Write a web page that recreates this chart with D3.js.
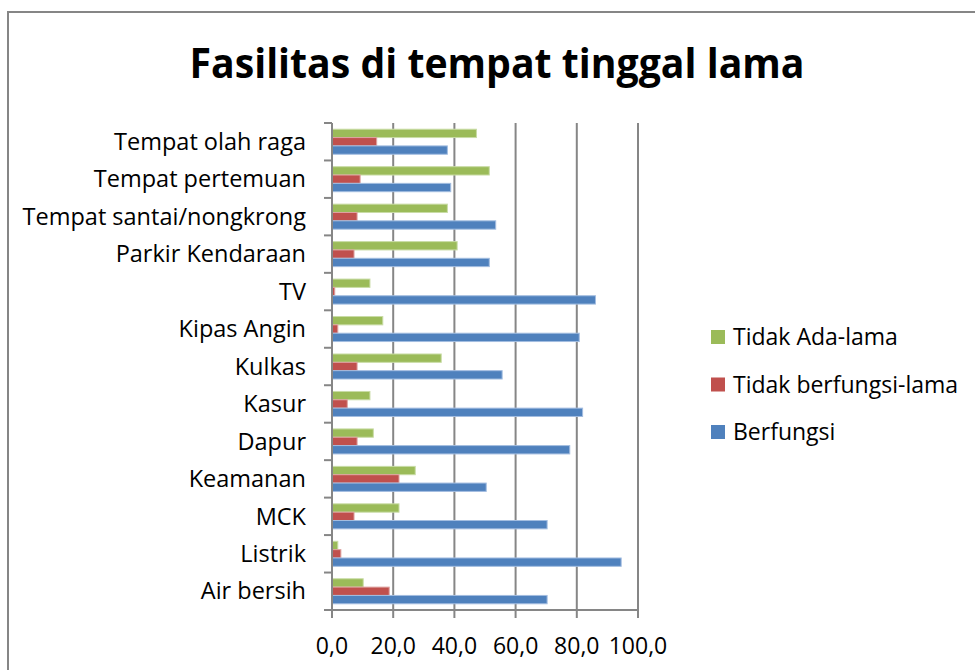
<!DOCTYPE html>
<html lang="id">
<head>
  <meta charset="utf-8" />
  <title>Fasilitas di tempat tinggal lama</title>
  <script src="https://cdn.jsdelivr.net/npm/d3@7"></script>
  <style>
    body { margin: 0; background: #fff; }
    svg { display: block; }
    text { font-family: "Open Sans", "Noto Sans", sans-serif; fill: #000; }
    .grid line, .axis line, .axis path { stroke: #868686; stroke-width: 2; }
  </style>
</head>
<body>
<div id="chart"></div>
<script>
  // kategori dari atas ke bawah
  var categories = ["Tempat olah raga", "Tempat pertemuan", "Tempat santai/nongkrong", "Parkir Kendaraan",
    "TV", "Kipas Angin", "Kulkas", "Kasur", "Dapur", "Keamanan", "MCK", "Listrik", "Air bersih"];

  var tidakAda = [47.2, 51.4, 37.7, 40.9, 12.4, 16.6, 35.7, 12.4, 13.5, 27.2, 21.9, 1.9, 10.2];
  var tidakBerfungsi = [14.6, 9.2, 8.2, 7.2, 0.9, 1.9, 8.2, 5.0, 8.2, 21.9, 7.2, 2.9, 18.7];
  var berfungsi = [37.7, 38.8, 53.5, 51.4, 86.1, 80.8, 55.6, 81.9, 77.7, 50.4, 70.3, 94.5, 70.3];

  var seriesNames = ["Tidak Ada-lama", "Tidak berfungsi-lama", "Berfungsi"];
  var seriesValues = [tidakAda, tidakBerfungsi, berfungsi];
  var seriesColors = ["#9BBB59", "#C0504D", "#4F81BD"];
  var seriesStroke = ["#c9dca6", "#dea3a1", "#a3bde0"];
  var xTicks = [0, 20, 40, 60, 80, 100];

  var W = 975, H = 670;
  var plot = { left: 332, right: 638, top: 123, bottom: 610 };

  var svg = d3.select("#chart").append("svg")
    .attr("width", W)
    .attr("height", H);

  // bingkai grafik
  svg.append("rect")
    .attr("x", 8).attr("y", 12)
    .attr("width", W + 20).attr("height", H + 20)
    .attr("fill", "#fff")
    .attr("stroke", "#868686")
    .attr("stroke-width", 2);

  svg.append("text")
    .attr("x", 497).attr("y", 78)
    .attr("text-anchor", "middle")
    .attr("font-weight", "bold")
    .attr("font-size", 42)
    .attr("textLength", 615)
    .attr("lengthAdjust", "spacingAndGlyphs")
    .text("Fasilitas di tempat tinggal lama");

  var x = d3.scaleLinear().domain([0, 100]).range([plot.left, plot.right]);
  var y = d3.scaleBand().domain(categories).range([plot.top, plot.bottom]).padding(0);
  var gap = y.step() * 0.166;
  var ySub = d3.scaleBand().domain(seriesNames).range([gap, y.step() - gap]).padding(0);

  // garis grid vertikal
  svg.append("g").attr("class", "grid")
    .selectAll("line")
    .data(xTicks.slice(1))
    .join("line")
    .attr("x1", d => x(d)).attr("x2", d => x(d))
    .attr("y1", plot.top).attr("y2", plot.bottom);

  // batang
  var rows = categories.map((c, i) => ({ cat: c, vals: seriesValues.map((s, k) => ({ key: seriesNames[k], k: k, v: s[i] })) }));
  svg.append("g")
    .selectAll("g")
    .data(rows)
    .join("g")
    .attr("transform", d => "translate(0," + y(d.cat) + ")")
    .selectAll("rect")
    .data(d => d.vals)
    .join("rect")
    .attr("x", x(0))
    .attr("y", d => ySub(d.key))
    .attr("width", d => x(d.v) - x(0))
    .attr("height", ySub.bandwidth())
    .attr("fill", d => seriesColors[d.k])
    .attr("stroke", d => seriesStroke[d.k])
    .attr("stroke-width", 1);

  // sumbu Y (tanda di batas kategori)
  var yAxis = svg.append("g").attr("class", "axis");
  yAxis.append("line")
    .attr("x1", x(0)).attr("x2", x(0))
    .attr("y1", plot.top).attr("y2", plot.bottom);
  yAxis.selectAll(".tk")
    .data(categories)
    .join("line")
    .attr("class", "tk")
    .attr("x1", x(0) - 8).attr("x2", x(0))
    .attr("y1", d => y(d)).attr("y2", d => y(d));
  yAxis.selectAll("text")
    .data(categories)
    .join("text")
    .attr("x", 306)
    .attr("y", d => y(d) + y.bandwidth() / 2)
    .attr("dy", "0.35em")
    .attr("text-anchor", "end")
    .attr("font-size", 23.5)
    .text(d => d);

  // sumbu X
  var xAxis = svg.append("g").attr("class", "axis");
  xAxis.append("line")
    .attr("x1", x(0) - 8).attr("x2", plot.right)
    .attr("y1", plot.bottom).attr("y2", plot.bottom);
  xAxis.selectAll(".tk")
    .data(xTicks)
    .join("line")
    .attr("class", "tk")
    .attr("x1", d => x(d)).attr("x2", d => x(d))
    .attr("y1", plot.bottom).attr("y2", plot.bottom + 8);
  xAxis.selectAll("text")
    .data(xTicks)
    .join("text")
    .attr("x", d => x(d))
    .attr("y", 654)
    .attr("text-anchor", "middle")
    .attr("font-size", 23)
    .text(d => d3.format(".1f")(d).replace(".", ","));

  // legenda
  var legend = svg.append("g")
    .selectAll("g")
    .data(seriesNames)
    .join("g")
    .attr("transform", (d, i) => "translate(711," + (337 + i * 47.5) + ")");
  legend.append("rect")
    .attr("x", 0).attr("y", -7)
    .attr("width", 14).attr("height", 14)
    .attr("fill", (d, i) => seriesColors[i]);
  legend.append("text")
    .attr("x", 22)
    .attr("dy", "0.35em")
    .attr("font-size", 23)
    .text(d => d);
</script>
</body>
</html>
